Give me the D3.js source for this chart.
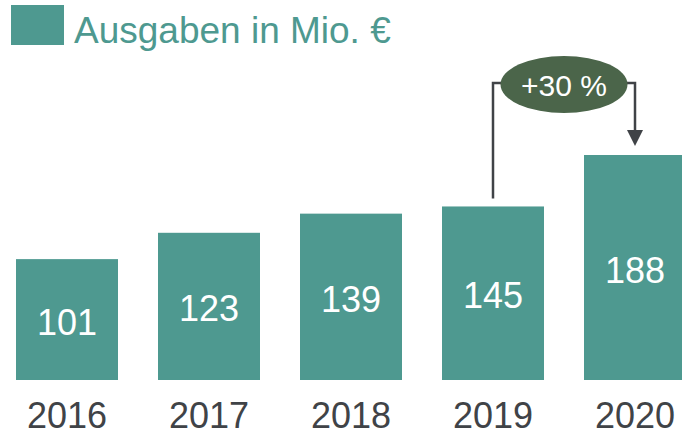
<!DOCTYPE html>
<html>
<head>
<meta charset="utf-8">
<script src="https://cdn.jsdelivr.net/npm/d3@7"></script>
<style>
  html, body { margin: 0; padding: 0; background: #fff; }
  svg { display: block; font-family: "Liberation Sans", Arial, sans-serif; }
</style>
</head>
<body>
<svg id="chart" width="682" height="435"></svg>
<script>
const years = ['2016', '2017', '2018', '2019', '2020'];
const values = [101, 123, 139, 145, 188];
const legendLabel = 'Ausgaben in Mio. €';
const growthLabel = '+30 %';
const growthFrom = '2019';
const growthTo = '2020';

const teal = '#4e9990';
const dark = '#404347';
const ovalColor = '#4b654a';

const svg = d3.select('#chart');

// band: step 142, bar 102, first bar at x=16
const pi = 40 / 142;
const x = d3.scaleBand()
  .domain(years)
  .range([-4, 706])
  .paddingInner(pi)
  .paddingOuter(pi / 2);

const y = d3.scaleLinear()
  .domain([0, d3.max(values)])
  .range([380, 155]);

// legend
svg.append('rect')
  .attr('x', 11).attr('y', 5)
  .attr('width', 53).attr('height', 40)
  .attr('fill', teal);

svg.append('text')
  .attr('x', 74).attr('y', 43)
  .attr('font-size', 37)
  .attr('fill', teal)
  .text(legendLabel);

// bars
const bars = svg.append('g');
bars.selectAll('rect')
  .data(values)
  .join('rect')
  .attr('x', (d, i) => x(years[i]))
  .attr('y', d => y(d))
  .attr('width', x.bandwidth())
  .attr('height', d => y(0) - y(d))
  .attr('fill', teal);

bars.selectAll('text.val')
  .data(values)
  .join('text')
  .attr('class', 'val')
  .attr('x', (d, i) => x(years[i]) + x.bandwidth() / 2)
  .attr('y', d => (y(d) + y(0)) / 2 + 15)
  .attr('text-anchor', 'middle')
  .attr('font-size', 36)
  .attr('fill', '#fff')
  .text(d => d);

// year axis labels
const axis = d3.axisBottom(x).tickSize(0).tickPadding(0);
const axisG = svg.append('g')
  .attr('transform', 'translate(0,' + y(0) + ')')
  .call(axis);
axisG.select('.domain').remove();
axisG.selectAll('text')
  .attr('dy', null)
  .attr('y', 48)
  .attr('font-size', 36)
  .attr('font-family', '"Liberation Sans", Arial, sans-serif')
  .attr('fill', dark);

// growth annotation
const xa = x(growthFrom) + x.bandwidth() / 2;
const xb = x(growthTo) + x.bandwidth() / 2;
const topY = 83;
const ya = y(values[years.indexOf(growthFrom)]) - 8;
const yb = y(values[years.indexOf(growthTo)]) - 9;

const ann = svg.append('g');
ann.append('path')
  .attr('d', `M${xa},${ya} V${topY} H${(xa + xb) / 2}`)
  .attr('fill', 'none')
  .attr('stroke', dark)
  .attr('stroke-width', 2.5);
ann.append('path')
  .attr('d', `M${(xa + xb) / 2},${topY} H${xb} V${yb - 15}`)
  .attr('fill', 'none')
  .attr('stroke', dark)
  .attr('stroke-width', 2.5);
ann.append('path')
  .attr('d', `M${xb - 8},${yb - 16} L${xb + 8},${yb - 16} L${xb},${yb} Z`)
  .attr('fill', dark);

ann.append('ellipse')
  .attr('cx', (xa + xb) / 2)
  .attr('cy', 84.5)
  .attr('rx', 63.5)
  .attr('ry', 28.5)
  .attr('fill', ovalColor);
ann.append('text')
  .attr('x', (xa + xb) / 2)
  .attr('y', 96)
  .attr('text-anchor', 'middle')
  .attr('font-size', 30)
  .attr('fill', '#fff')
  .text(growthLabel);
</script>
</body>
</html>
